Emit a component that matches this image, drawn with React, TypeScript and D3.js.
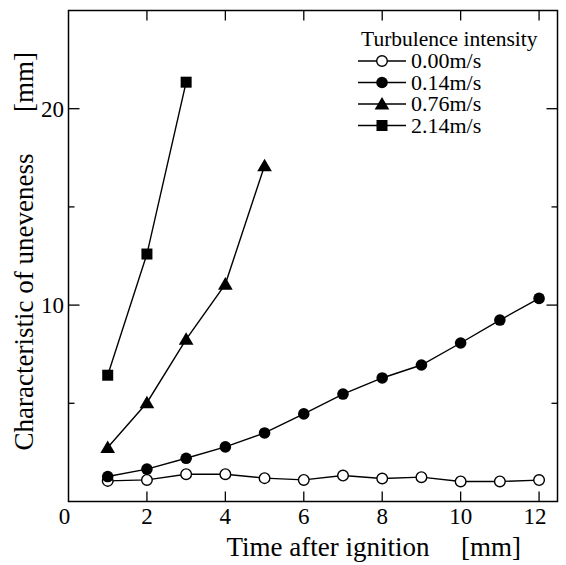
import React from "react";
import * as d3 from "d3";

const seriesNames = ["0.00m/s", "0.14m/s", "0.76m/s", "2.14m/s"];
const markerKinds = ["openCircle", "circle", "triangle", "square"];
const x000 = [1, 2, 3, 4, 5, 6, 7, 8, 9, 10, 11, 12];
const y000 = [1.05, 1.1, 1.39, 1.39, 1.19, 1.1, 1.32, 1.17, 1.24, 1.02, 1.02, 1.09];
const x014 = [1, 2, 3, 4, 5, 6, 7, 8, 9, 10, 11, 12];
const y014 = [1.27, 1.65, 2.2, 2.78, 3.49, 4.46, 5.47, 6.29, 6.95, 8.07, 9.24, 10.34];
const x076 = [1, 2, 3, 4, 5];
const y076 = [2.75, 5.03, 8.26, 11.07, 17.1];
const x214 = [1, 2, 3];
const y214 = [6.43, 12.6, 21.35];
const xTicks = [0, 2, 4, 6, 8, 10, 12];
const yMajorTicks = [10, 20];
const yMinorTicks = [5, 15];
const xTitle = "Time after ignition";
const xUnit = "[mm]";
const yTitle = "Characteristic of uneveness";
const yUnit = "[mm]";
const legendTitle = "Turbulence intensity";

const FONT = "'Liberation Serif', 'Times New Roman', serif";

function Marker({ kind, x, y }: { kind: string; x: number; y: number }) {
  if (kind === "openCircle")
    return <circle cx={x} cy={y} r={5.3} fill="#fff" stroke="#000" strokeWidth={1.4} />;
  if (kind === "circle") return <circle cx={x} cy={y} r={5.8} fill="#000" />;
  if (kind === "square") return <rect x={x - 5.5} y={y - 5.5} width={11} height={11} fill="#000" />;
  const s = 7;
  return <path d={`M${x},${y - s}L${x + s * 1.05},${y + s * 0.8}L${x - s * 1.05},${y + s * 0.8}Z`} fill="#000" />;
}

export default function App() {
  const W = 566, H = 565;
  const left = 68.5, right = 557.5, top = 10.5, bottom = 501.5;
  const x = d3.scaleLinear().domain([0, 12.47]).range([left, right]);
  const y = d3.scaleLinear().domain([0, 25]).range([bottom, top]);
  const series = [
    { xs: x000, ys: y000 },
    { xs: x014, ys: y014 },
    { xs: x076, ys: y076 },
    { xs: x214, ys: y214 },
  ];
  const line = d3.line<[number, number]>().x((d) => x(d[0])).y((d) => y(d[1]));
  const legendX = 358, legendTop = 61, legendStep = 21.5;
  return (
    <svg width={W} height={H} style={{ position: "absolute", left: 0, top: 0 }} fontFamily={FONT}>
      <rect width={W} height={H} fill="#fff" />
      <rect x={left} y={top} width={right - left} height={bottom - top} fill="none" stroke="#000" strokeWidth={1.5} />
      {xTicks.map((t) => (
        <g key={"xt" + t}>
          {t > 0 && <line x1={x(t)} x2={x(t)} y1={bottom} y2={bottom - 10} stroke="#000" strokeWidth={1.3} />}
          {t > 0 && <line x1={x(t)} x2={x(t)} y1={top} y2={top + 10} stroke="#000" strokeWidth={1.3} />}
          <text x={x(t) - (t === 0 ? 4 : t === 12 ? 4 : 0)} y={524} textAnchor="middle" fontSize={23}>{t}</text>
        </g>
      ))}
      {yMajorTicks.map((t) => (
        <g key={"yt" + t}>
          <line x1={left} x2={left + 11} y1={y(t)} y2={y(t)} stroke="#000" strokeWidth={1.3} />
          <line x1={right} x2={right - 11} y1={y(t)} y2={y(t)} stroke="#000" strokeWidth={1.3} />
          <text x={64} y={y(t)} dy="0.36em" textAnchor="end" fontSize={23}>{t}</text>
        </g>
      ))}
      {yMinorTicks.map((t) => (
        <g key={"ym" + t}>
          <line x1={left} x2={left + 6} y1={y(t)} y2={y(t)} stroke="#000" strokeWidth={1.3} />
          <line x1={right} x2={right - 6} y1={y(t)} y2={y(t)} stroke="#000" strokeWidth={1.3} />
        </g>
      ))}
      <text x={328} y={556} textAnchor="middle" fontSize={27}>{xTitle}</text>
      <text x={491} y={556} textAnchor="middle" fontSize={27}>{xUnit}</text>
      <text transform={`translate(33,302) rotate(-90)`} textAnchor="middle" fontSize={27}>{yTitle}</text>
      <text transform={`translate(33,82) rotate(-90)`} textAnchor="middle" fontSize={27}>{yUnit}</text>
      {series.map((s, i) => {
        const pts = s.xs.map((v, j) => [v, s.ys[j]] as [number, number]);
        return (
          <g key={"s" + i}>
            <path d={line(pts) || ""} fill="none" stroke="#000" strokeWidth={1.4} />
            {pts.map((p, j) => (
              <Marker key={j} kind={markerKinds[i]} x={x(p[0])} y={y(p[1])} />
            ))}
          </g>
        );
      })}
      <text x={361} y={46} fontSize={21.5}>{legendTitle}</text>
      {seriesNames.map((n, i) => {
        const ly = legendTop + i * legendStep;
        return (
          <g key={"l" + i}>
            <line x1={legendX} x2={legendX + 48} y1={ly} y2={ly} stroke="#000" strokeWidth={1.4} />
            <Marker kind={markerKinds[i]} x={legendX + 24} y={ly} />
            <text x={411} y={ly} dy="0.34em" fontSize={22}>{n}</text>
          </g>
        );
      })}
    </svg>
  );
}
